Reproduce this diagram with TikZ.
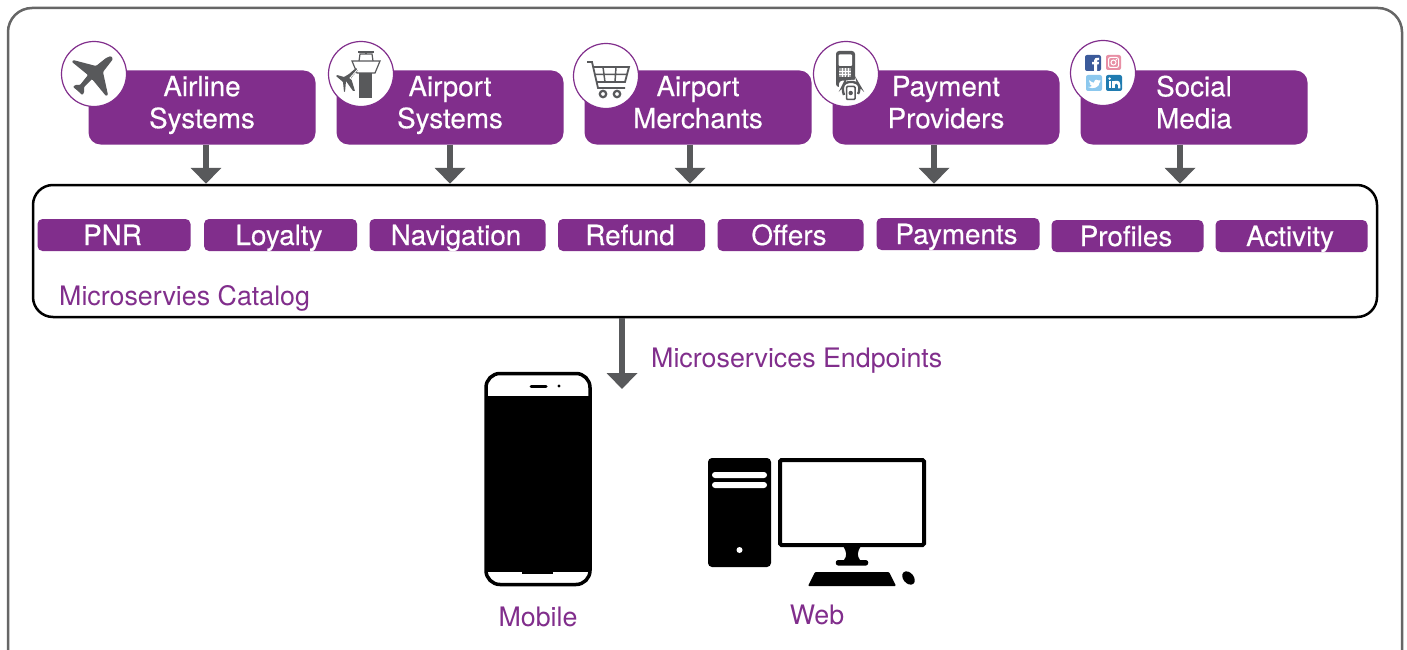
\documentclass[tikz,border=0pt]{standalone}
\usepackage{fontspec}
\setmainfont{TeX Gyre Heros}
\newfontfamily\medfont[FakeBold=0.35]{TeX Gyre Heros}
\usetikzlibrary{arrows.meta}
\definecolor{purp}{HTML}{812E8C}
\definecolor{icong}{HTML}{58595B}
\definecolor{framec}{HTML}{666666}
\definecolor{fbc}{HTML}{3B5A9A}
\definecolor{igc}{HTML}{E88FA5}
\definecolor{twc}{HTML}{8CC8EE}
\definecolor{lic}{HTML}{1F7BB0}
\newcommand{\twolines}[2]{\rule{0pt}{20pt}#1\hspace{3pt}\\#2\rule[-11pt]{0pt}{11pt}}
\tikzset{
  bigbox/.style={fill=purp,rounded corners=12pt,minimum width=227pt,minimum height=74pt,inner sep=0pt,text=white,font=\medfont\fontsize{27.8}{32}\selectfont,align=center},
  pill/.style={fill=purp,rounded corners=5pt,minimum height=32pt,inner sep=0pt,text=white,font=\medfont\fontsize{27.8}{30}\selectfont,text height=20pt,text depth=0pt,execute at end node={\hspace{3pt}}},
  badge/.style={circle,draw=purp,line width=1.2pt,fill=white,minimum size=65pt,inner sep=0pt},
  flow/.style={draw=icong,line width=6pt,-{Triangle[length=16pt,width=30pt]}},
  plabel/.style={text=purp,font=\fontsize{26.8}{30}\selectfont,inner sep=0pt},
}
\begin{document}
\begin{tikzpicture}[x=1pt,y=-1pt]
\useasboundingbox (0,0) rectangle (1407,650);
\fill[white] (0,0) rectangle (1407,650);
% frame, open at the bottom of the page
\draw[framec,line width=2.5pt,rounded corners=24pt] (8,680) -- (8,8) -- (1402,8) -- (1402,680);

% catalog
\node[draw=black,line width=2.5pt,rounded corners=20pt,minimum width=1344pt,minimum height=132pt,inner sep=0pt] (catalog) at (705,251) {};
\node[plabel,anchor=base west] (catlabel) at (59,305) {Microservies Catalog};

% top boxes
\node[bigbox] (airline) at (202,107.5) {\twolines{Airline}{Systems}};
\node[bigbox] (airport) at (450,107.5) {\twolines{Airport}{Systems}};
\node[bigbox] (merchants) at (698,107.5) {\twolines{Airport}{Merchants}};
\node[bigbox] (payprov) at (946,107.5) {\twolines{Payment}{Providers}};
\node[bigbox] (social) at (1194,107.5) {\twolines{Social}{Media}};

% arrows
\draw[flow] ([xshift=4pt]airline.south) -- ([xshift=4pt]airline.south |- catalog.north);
\draw[flow] (airport.south) -- (airport.south |- catalog.north);
\draw[flow] ([xshift=-8pt]merchants.south) -- ([xshift=-8pt]merchants.south |- catalog.north);
\draw[flow] ([xshift=-12pt]payprov.south) -- ([xshift=-12pt]payprov.south |- catalog.north);
\draw[flow] ([xshift=-14pt]social.south) -- ([xshift=-14pt]social.south |- catalog.north);

% pills
\node[pill,minimum width=153pt] (pnr) at (114,235) {PNR};
\node[pill,minimum width=153pt] (loyalty) at (280.5,235) {Loyalty};
\node[pill,minimum width=176pt] (nav) at (457.5,235) {Navigation};
\node[pill,minimum width=147pt] (refund) at (631.5,235) {Refund};
\node[pill,minimum width=146pt] (offers) at (790.5,235) {Offers};
\node[pill,minimum width=163pt] (payments) at (958,234) {Payments};
\node[pill,minimum width=152pt] (profiles) at (1127.5,236) {Profiles};
\node[pill,minimum width=152pt] (activity) at (1291.5,236) {Activity};

% badges
\node[badge] (b1) at (94,74) {};
\node[badge] (b2) at (361,74) {};
\node[badge] (b3) at (606,76) {};
\node[badge] (b4) at (846,74) {};
\node[badge] (b5) at (1103,73) {};

% plane icon
\fill[icong,rounded corners=1pt] (111,56) -- (113,59) -- (103,72) -- (108,95) -- (106,96) -- (92,79) -- (84,87) -- (84,93) -- (82,95) -- (78,91) -- (73,87) -- (75,85) -- (80,85) -- (88,75) -- (72,62) -- (73,60) -- (96,66) -- (106,58) -- cycle;

% tower icon
\fill[icong] (359,73) rectangle (372,98);
\draw[icong,line width=1.2pt,fill=white] (352,61) -- (380,61) -- (375,73) -- (357,73) -- cycle;
\draw[icong,line width=1.2pt] (359,61) -- (360,54) -- (372,54) -- (373,61);
\draw[icong,line width=1.2pt] (358,52) -- (374,52) (366,52) -- (366,54);
\fill[icong,rounded corners=.6pt] (356,68) -- (358,70) -- (351,78) -- (355,91) -- (353,91) -- (346,81) -- (345,92) -- (344,92) -- (343,82) -- (336,76) -- (337,75) -- (344,77) -- (349,74) -- cycle;
\draw[white,line width=.8pt] (358,69) -- (350,78) -- (358,84);

% cart icon
\draw[icong,line width=1.8pt] (587,62) -- (592,62) -- (598,88) -- (625,88);
\draw[icong,line width=1.8pt] (593,67) -- (629,67) -- (625,82) -- (597,82);
\draw[icong,line width=1.5pt] (595,74.5) -- (627,74.5) (603,67) -- (605,82) (616,67) -- (615,82);
\draw[icong,line width=2.2pt,fill=white] (603,94) circle (3.2) (617,94) circle (3.2);

% payment icon
\fill[icong,rounded corners=3pt] (836,51) rectangle (855,87);
\fill[white,rounded corners=1pt] (838.5,54.5) rectangle (852,66);
\fill[icong!55] (839,68) rectangle (851,77);
\draw[white,line width=.35pt] (842,68) -- (842,77) (845,68) -- (845,77) (848,68) -- (848,77) (839,71) -- (851,71) (839,74) -- (851,74);
\fill[white,rounded corners=3pt] (839,98) -- (839,81) -- (863,79) -- (865,98) -- cycle;
\draw[icong,line width=2.4pt,rounded corners=4pt] (844,95) -- (842,88) -- (845,82) -- (857,82) -- (860.5,88) -- (858,94);
\draw[icong,line width=1.5pt,fill=white,rounded corners=1pt] (846.5,86.5) rectangle (855,99.5);
\fill[icong] (850.7,93) circle (2.2);

% social icons
\fill[fbc,rounded corners=2pt] (1085,55) rectangle (1101,71);
\fill[white] (1094,71) -- (1094,64.5) -- (1092,64.5) -- (1092,62) -- (1094,62) -- (1094,60.5) .. controls (1094,58) and (1096,57.5) .. (1099,57.7) -- (1099,60) .. controls (1097.5,60) and (1097,60) .. (1097,61) -- (1097,62) -- (1099,62) -- (1098.6,64.5) -- (1097,64.5) -- (1097,71) -- cycle;
\fill[igc,rounded corners=2pt] (1106,55) rectangle (1121,70);
\draw[white,line width=1pt,rounded corners=2pt] (1108.5,57.5) rectangle (1118.5,67.5);
\draw[white,line width=1pt] (1113.5,62.5) circle (2.5);
\fill[white] (1116.4,59.6) circle (.8);
\fill[twc,rounded corners=2pt] (1086,75) rectangle (1102,91);
\fill[white] (1089,80) .. controls (1091,82) and (1092.5,82.5) .. (1094,82.7) .. controls (1094,79.5) and (1097.5,78.5) .. (1099,80.5) -- (1100.5,80) -- (1099.7,81.5) -- (1100.5,81.3) -- (1099.6,82.5) .. controls (1099.6,87) and (1093,90) .. (1088,87) .. controls (1090,87) and (1091,86.6) .. (1092,86) .. controls (1090.5,85.6) and (1090,85) .. (1089.6,84) -- (1090.8,84) .. controls (1089.5,83.3) and (1089,82.5) .. (1089,81.5) -- (1090,81.8) .. controls (1089,81) and (1088.8,81) .. (1089,80) -- cycle;
\fill[lic,rounded corners=2pt] (1106,75) rectangle (1122,91);
\fill[white] (1108.5,81) rectangle (1110.7,88.5);
\fill[white] (1109.6,78.6) circle (1.3);
\fill[white] (1112.3,81) rectangle (1114.5,88.5);
\fill[white] (1114.5,81) .. controls (1120,80) and (1120.3,83) .. (1120.3,85) -- (1120.3,88.5) -- (1118,88.5) -- (1118,85) .. controls (1118,83) and (1114.5,83) .. (1114.5,85) -- cycle;

% main down arrow
\coordinate (endpoint) at (622,389);
\draw[flow] (catalog.south -| endpoint) -- (endpoint);
\node[plabel,anchor=base west] (eplabel) at (651,367) {Microservices Endpoints};

% phone
\draw[black,line width=3.5pt,fill=white,rounded corners=14pt] (486,373.5) rectangle (590,584.5);
\fill[black] (486,396) rectangle (590,572);
\fill[black] (522,572) rectangle (553,574);
\draw[black,line width=3pt,line cap=round] (531,386) -- (546,386);
\fill[black] (559,386) circle (1.6);
\node[plabel,anchor=base] (mobile) at (538,626) {Mobile};

% tower computer
\fill[black,rounded corners=4pt] (708,458) rectangle (771,567);
\fill[white,rounded corners=3pt] (712,472) rectangle (767,478);
\fill[white,rounded corners=3pt] (712,482) rectangle (767,488);
\fill[white] (739.5,550) circle (3);
% monitor
\draw[black,line width=4pt,fill=white,rounded corners=1.5pt] (780,460) rectangle (924,545);
\fill[black] (843,546) .. controls (847,552) and (847,556) .. (844,560) -- (838,560) .. controls (835,560) and (835,565.5) .. (838,565.5) -- (866,565.5) .. controls (869,565.5) and (869,560) .. (866,560) -- (860,560) .. controls (857,556) and (857,552) .. (861,546) -- cycle;
\fill[black,rounded corners=1pt] (815,572) -- (889,572) -- (896,586) -- (808,586) -- cycle;
\fill[black,rotate around={-50:(908.5,578)}] (908.5,578) ellipse (7.5 and 5.2);
\node[plabel,anchor=base] (web) at (817,624) {Web};
\end{tikzpicture}
\end{document}
